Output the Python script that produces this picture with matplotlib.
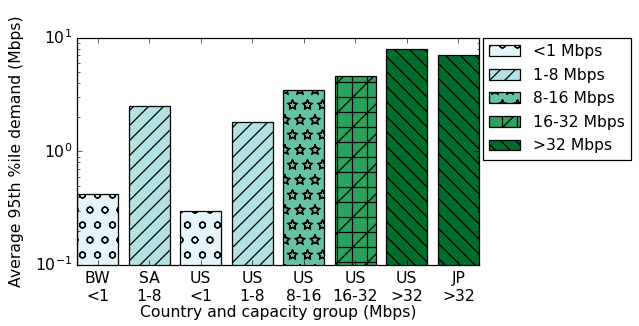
import numpy as np
from matplotlib import pyplot as plt
from matplotlib import hatch as mhatch
from matplotlib.patches import Patch

plt.style.use("classic")

# hollow stars, like older matplotlib
mhatch.Stars.filled = False

# bars, left to right
countries = ["BW", "SA", "US", "US", "US", "US", "US", "JP"]
groups = ["<1", "1-8", "<1", "1-8", "8-16", "16-32", ">32", ">32"]
demand = [0.41, 2.49, 0.286, 1.81, 3.49, 4.6, 7.9, 7.1]

# capacity classes shown in the legend
classes = ["<1", "1-8", "8-16", "16-32", ">32"]
class_colors = ["#e5f5f9", "#b2e2e2", "#66c2a4", "#2ca25f", "#006d2c"]
class_hatches = ["o", "//", "*", "+/", "\\\\"]

FS = 12.5
plt.rcParams["font.size"] = FS
plt.rcParams["hatch.linewidth"] = 1.0

DPI = 90
fig = plt.figure(figsize=(639 / DPI, 326 / DPI), dpi=DPI, facecolor="white")
ax = fig.add_axes([0.1205, 0.187, 0.629, 0.697])

x = np.arange(len(demand))
for i, (g, v) in enumerate(zip(groups, demand)):
    k = classes.index(g)
    ax.bar(x[i], v, width=0.8, align="edge", bottom=0.01,
           color=class_colors[k], hatch=class_hatches[k],
           edgecolor="k", linewidth=1.0)

ax.set_yscale("log")
ax.set_ylim(0.1, 10)
ax.set_xlim(0, 7.8)
ax.set_xticks(x + 0.4)
ax.set_xticklabels([f"{c}\n{g}" for c, g in zip(countries, groups)], fontsize=FS)
ax.tick_params(axis="both", labelsize=FS)
ax.tick_params(axis="x", which="major", pad=5)

ax.set_xlabel("Country and capacity group (Mbps)", fontsize=FS, labelpad=1)
ax.set_ylabel("Average 95th %ile demand (Mbps)", fontsize=FS, labelpad=9)

handles = [Patch(facecolor=c, hatch=h, edgecolor="k", linewidth=1.0)
           for c, h in zip(class_colors, class_hatches)]
ax.legend(handles, [f"{c} Mbps" for c in classes],
          loc="upper left", bbox_to_anchor=(1.01, 1.0),
          fontsize=FS, handlelength=2.0, handleheight=0.7,
          labelspacing=0.55, borderaxespad=0, fancybox=False)

fig.savefig("out.png", dpi=DPI, facecolor="white")
